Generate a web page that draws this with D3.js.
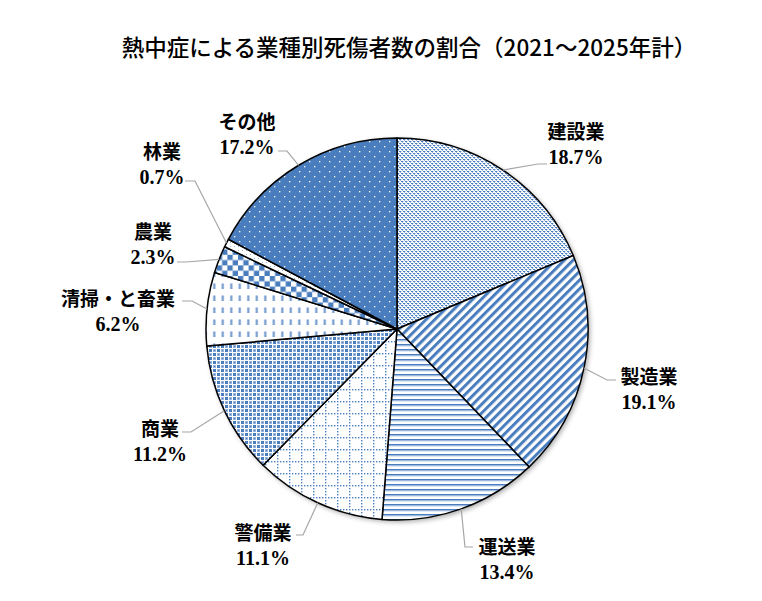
<!DOCTYPE html>
<html>
<head>
<meta charset="utf-8">
<script src="https://cdn.jsdelivr.net/npm/d3@7"></script>
<style>
  body { margin: 0; background: #fff; }
  svg { display: block; }
</style>
</head>
<body>
<div id="chart"></div>
<script>
// data (share of heat stroke casualties, %)
var categories = ["建設業", "製造業", "運送業", "警備業", "商業", "清掃・と畜業", "農業", "林業", "その他"];
var shares = [18.7, 19.1, 13.4, 11.1, 11.2, 6.2, 2.3, 0.7, 17.2];
var pctLabels = ["18.7%", "19.1%", "13.4%", "11.1%", "11.2%", "6.2%", "2.3%", "0.7%", "17.2%"];
var titleText = "熱中症による業種別死傷者数の割合（2021～2025年計）";

// label layout: text centre, elbow of leader, end of leader
var labelLayout = [
  { x: 576, y: 130, elbow: [538, 164], end: [547, 164] },
  { x: 649, y: 375, elbow: [607, 380], end: [616, 380] },
  { x: 507, y: 545, elbow: [465, 547], end: [473, 547] },
  { x: 263, y: 531, elbow: [303, 535], end: [296, 535] },
  { x: 160, y: 427, elbow: [191, 432], end: [182, 432] },
  { x: 118, y: 297, elbow: [192, 301], end: [182, 301] },
  { x: 153, y: 230, elbow: [186, 262], end: [177, 262] },
  { x: 162, y: 150, elbow: [195, 181], end: [185, 181] },
  { x: 247, y: 120, elbow: [287, 151], end: [278, 151] }
];

var svgWidth = 762;
var svgHeight = 601;
var cx = 397, cy = 329, radius = 191;

var blue = "#4a7dbd";
var lightBlue = "#97b4df";

var svg = d3.select("#chart")
  .append("svg")
  .attr("width", svgWidth)
  .attr("height", svgHeight);

var defs = svg.append("defs");

// drop shadow under the pie
var shadow = defs.append("filter")
  .attr("id", "shadow")
  .attr("x", "-10%").attr("y", "-10%")
  .attr("width", "120%").attr("height", "120%");
shadow.append("feDropShadow")
  .attr("dx", 2).attr("dy", 2)
  .attr("stdDeviation", 2.5)
  .attr("flood-color", "#000")
  .attr("flood-opacity", 0.35);

function makePattern(id, w, h, bg, transform) {
  var p = defs.append("pattern")
    .attr("id", id)
    .attr("patternUnits", "userSpaceOnUse")
    .attr("width", w)
    .attr("height", h);
  if (transform) p.attr("patternTransform", transform);
  p.append("rect").attr("width", w).attr("height", h).attr("fill", bg);
  return p;
}

function dot(p, x, y, w, h, color) {
  p.append("rect").attr("x", x).attr("y", y).attr("width", w).attr("height", h).attr("fill", color);
}

// 建設業: fine check
var p0 = makePattern("pat0", 4, 4, "#ffffff");
dot(p0, 0, 0, 2, 1, blue);
dot(p0, 2, 2, 2, 1, blue);
dot(p0, 1, 1, 1, 1, lightBlue);
dot(p0, 3, 3, 1, 1, lightBlue);
dot(p0, 2, 0, 1, 1, "#c9d8ef");
dot(p0, 0, 2, 1, 1, "#c9d8ef");

// 製造業: wide upward diagonal stripes
var p1 = makePattern("pat1", 6.2, 6.2, "#ffffff", "rotate(45)");
dot(p1, 0, 0, 3, 6.2, blue);

// 運送業: horizontal lines
var p2 = makePattern("pat2", 5, 5, "#ffffff");
dot(p2, 0, 0, 5, 1.5, blue);
dot(p2, 0, 1.5, 5, 0.8, lightBlue);

// 警備業: dotted grid
var p3 = makePattern("pat3", 12, 12, "#ffffff");
[0, 3, 6, 9].forEach(function(v) {
  dot(p3, 0, v, 1.4, 1.4, blue);
  if (v > 0) dot(p3, v, 0, 1.4, 1.4, blue);
});

// 商業: diagonal lattice of dark squares and framed squares
var p4 = makePattern("pat4", 8, 8, "#ffffff");
dot(p4, 0, 0, 3, 3, blue);
dot(p4, 4, 4, 3, 3, blue);
dot(p4, 4, 0, 3, 3, lightBlue);
dot(p4, 0, 4, 3, 3, lightBlue);
dot(p4, 5, 1, 1, 1, blue);
dot(p4, 1, 5, 1, 1, blue);

// 清掃・と畜業: short vertical dashes
var p5 = makePattern("pat5", 8.5, 12, "#ffffff");
dot(p5, 3, 2.5, 1, 5.5, lightBlue);
dot(p5, 4, 2.5, 1.2, 5.5, blue);

// 農業: large checkerboard
var p6 = makePattern("pat6", 10.6, 10.6, "#ffffff");
dot(p6, 0, 0, 5.3, 5.3, blue);
dot(p6, 5.3, 5.3, 5.3, 5.3, blue);

// 林業: sparse light dots
var p7 = makePattern("pat7", 4, 4, "#ffffff");
dot(p7, 1, 1, 1, 1, lightBlue);

// その他: solid blue with white dots
var p8 = makePattern("pat8", 10, 10, blue);
dot(p8, 2, 2, 1.3, 1.3, "#ffffff");
dot(p8, 7, 7, 1.3, 1.3, "#ffffff");

// title
svg.append("text")
  .attr("x", 409)
  .attr("y", 46)
  .attr("text-anchor", "middle")
  .attr("dominant-baseline", "central")
  .attr("font-family", "'Noto Sans CJK JP', sans-serif")
  .attr("font-weight", 500)
  .attr("font-size", "22.5px")
  .attr("fill", "#000")
  .text(titleText);

var pie = d3.pie().sort(null).value(function(d) { return d; });
var arcs = pie(shares);

var arc = d3.arc().innerRadius(0).outerRadius(radius);

var pieGroup = svg.append("g")
  .attr("transform", "translate(" + cx + "," + cy + ")");

// shadow disc
pieGroup.append("circle")
  .attr("r", radius)
  .attr("fill", "#fff")
  .attr("filter", "url(#shadow)");

pieGroup.selectAll("path.slice")
  .data(arcs)
  .enter()
  .append("path")
  .attr("class", "slice")
  .attr("d", arc)
  .attr("fill", function(d, i) { return "url(#pat" + i + ")"; })
  .attr("stroke", "#000")
  .attr("stroke-width", 1.5)
  .attr("stroke-linejoin", "round");

// leader lines, starting on the outer edge at the slice midpoint
var edgeArc = d3.arc().innerRadius(radius).outerRadius(radius);

svg.append("g")
  .selectAll("polyline")
  .data(arcs)
  .enter()
  .append("polyline")
  .attr("points", function(d, i) {
    var c = edgeArc.centroid(d);
    var lay = labelLayout[i];
    return [[cx + c[0], cy + c[1]], lay.elbow, lay.end].map(function(p) { return p.join(","); }).join(" ");
  })
  .attr("fill", "none")
  .attr("stroke", "#a6a6a6")
  .attr("stroke-width", 1.2);

// labels
var labels = svg.append("g")
  .selectAll("g")
  .data(categories)
  .enter()
  .append("g");

labels.append("text")
  .attr("x", function(d, i) { return labelLayout[i].x; })
  .attr("y", function(d, i) { return labelLayout[i].y; })
  .attr("text-anchor", "middle")
  .attr("dominant-baseline", "central")
  .attr("font-family", "'Noto Sans CJK JP', sans-serif")
  .attr("font-weight", "bold")
  .attr("font-size", "19px")
  .text(function(d) { return d; });

labels.append("text")
  .attr("x", function(d, i) { return labelLayout[i].x; })
  .attr("y", function(d, i) { return labelLayout[i].y + 27; })
  .attr("text-anchor", "middle")
  .attr("dominant-baseline", "central")
  .attr("font-family", "'Liberation Serif', 'DejaVu Serif', serif")
  .attr("font-weight", "bold")
  .attr("font-size", "20px")
  .text(function(d, i) { return pctLabels[i]; });
</script>
</body>
</html>
